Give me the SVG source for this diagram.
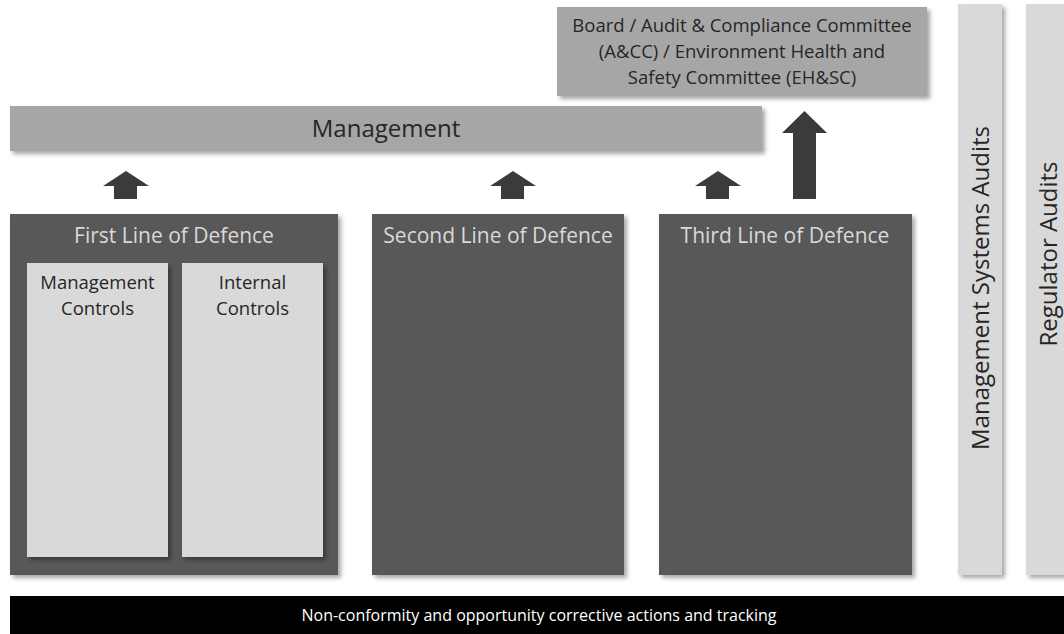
<svg xmlns="http://www.w3.org/2000/svg" width="1064" height="634" viewBox="0 0 1064 634">
<defs>
<filter id="sh" x="-10%" y="-10%" width="130%" height="130%">
<feDropShadow dx="3" dy="3" stdDeviation="2" flood-color="#000" flood-opacity="0.35"/>
</filter>
<style>
text{font-family:"Open Sans","Noto Sans","DejaVu Sans",sans-serif;text-anchor:middle}
.mid{fill:#a6a6a6}
.dark{fill:#595959}
.light{fill:#d9d9d9}
.arrow{fill:#3b3b3b}
.tdark{fill:#262626}
.tlight{fill:#d9d9d9}
</style>
</defs>
<rect width="1064" height="634" fill="#ffffff"/>

<g id="board">
<rect class="mid" x="557" y="7" width="370" height="89" filter="url(#sh)"/>
<text class="tdark" font-size="18.5" x="742" y="32">Board / Audit &amp; Compliance Committee</text>
<text class="tdark" font-size="18.5" x="742" y="58">(A&amp;CC) / Environment Health and</text>
<text class="tdark" font-size="18.5" x="742" y="84">Safety Committee (EH&amp;SC)</text>
</g>

<g id="management">
<rect class="mid" x="10" y="106" width="752" height="45" filter="url(#sh)"/>
<text class="tdark" font-size="24" x="386" y="137">Management</text>
</g>

<g id="connectors">
<polygon class="arrow" points="126,171 149,186 137,186 137,199 114,199 114,186 103,186"/>
<polygon class="arrow" points="513,171 536,186 524,186 524,199 501,199 501,186 490,186"/>
<polygon class="arrow" points="718,171 741,186 729,186 729,199 706,199 706,186 695,186"/>
<polygon class="arrow" points="804.5,111 827,133 816,133 816,199 793,199 793,133 782,133"/>
</g>

<g id="first-line">
<rect class="dark" x="10" y="214" width="328" height="361" filter="url(#sh)"/>
<text class="tlight" font-size="21" x="174" y="243">First Line of Defence</text>
</g>

<g id="management-controls">
<rect class="light" x="27" y="263" width="141" height="294" filter="url(#sh)"/>
<text class="tdark" font-size="18.5" x="97.5" y="289">Management</text>
<text class="tdark" font-size="18.5" x="97.5" y="315">Controls</text>
</g>

<g id="internal-controls">
<rect class="light" x="182" y="263" width="141" height="294" filter="url(#sh)"/>
<text class="tdark" font-size="18.5" x="252.5" y="289">Internal</text>
<text class="tdark" font-size="18.5" x="252.5" y="315">Controls</text>
</g>

<g id="second-line">
<rect class="dark" x="372" y="214" width="252" height="361" filter="url(#sh)"/>
<text class="tlight" font-size="21" x="498" y="243">Second Line of Defence</text>
</g>

<g id="third-line">
<rect class="dark" x="659" y="214" width="253" height="361" filter="url(#sh)"/>
<text class="tlight" font-size="21" x="785" y="243">Third Line of Defence</text>
</g>

<g id="management-systems-audits">
<rect class="light" x="958" y="4" width="44" height="571" filter="url(#sh)"/>
<text class="tdark" font-size="24" transform="translate(989,288) rotate(-90)">Management Systems Audits</text>
</g>

<g id="regulator-audits">
<rect class="light" x="1026" y="4" width="45" height="571" filter="url(#sh)"/>
<text class="tdark" font-size="24" transform="translate(1057,254) rotate(-90)">Regulator Audits</text>
</g>

<g id="corrective-actions">
<rect x="10" y="596" width="1060" height="40" fill="#000000"/>
<text fill="#ffffff" font-size="16" x="539" y="621">Non-conformity and opportunity corrective actions and tracking</text>
</g>
</svg>
